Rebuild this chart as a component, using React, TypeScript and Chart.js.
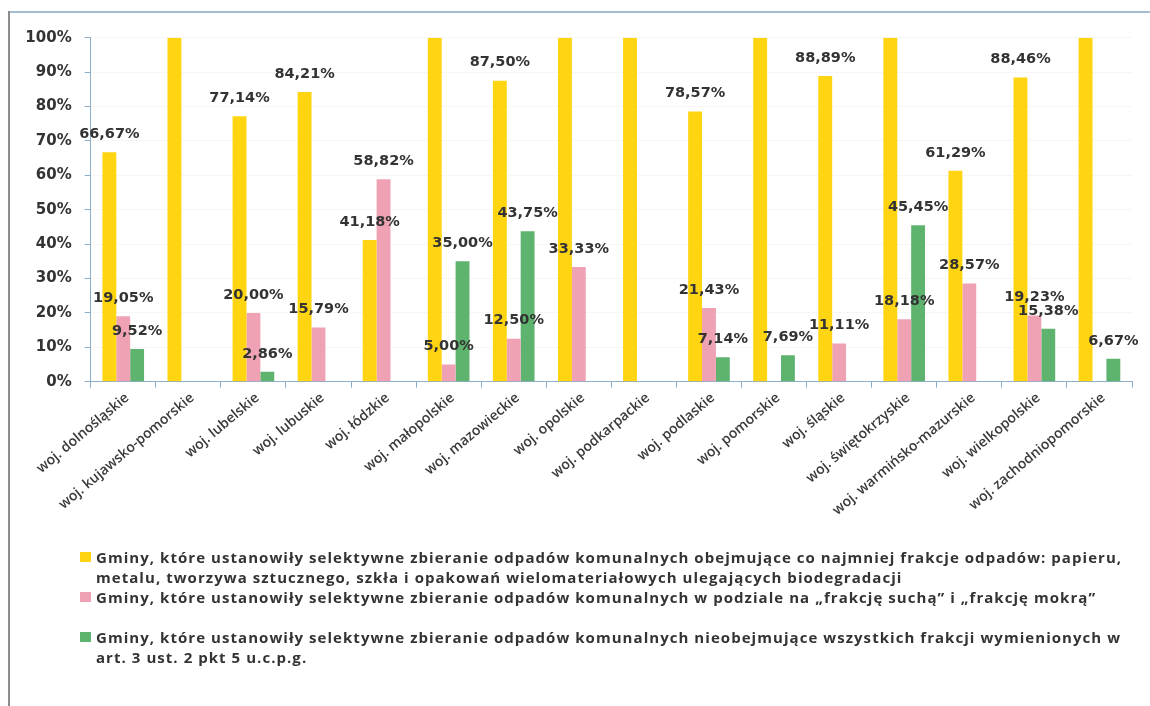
import React, { useEffect, useRef } from 'react';
import { Chart, registerables } from 'chart.js';

Chart.register(...registerables);

const categories = [
  'woj. dolnośląskie',
  'woj. kujawsko-pomorskie',
  'woj. lubelskie',
  'woj. lubuskie',
  'woj. łódzkie',
  'woj. małopolskie',
  'woj. mazowieckie',
  'woj. opolskie',
  'woj. podkarpackie',
  'woj. podlaskie',
  'woj. pomorskie',
  'woj. śląskie',
  'woj. świętokrzyskie',
  'woj. warmińsko-mazurskie',
  'woj. wielkopolskie',
  'woj. zachodniopomorskie',
];

const allFractions = [66.67, 100, 77.14, 84.21, 41.18, 100, 87.5, 100, 100, 78.57, 100, 88.89, 100, 61.29, 88.46, 100];
const dryWet = [19.05, 0, 20.0, 15.79, 58.82, 5.0, 12.5, 33.33, 0, 21.43, 0, 11.11, 18.18, 28.57, 19.23, 0];
const partialFractions = [9.52, 0, 2.86, 0, 0, 35.0, 43.75, 0, 0, 7.14, 7.69, 0, 45.45, 0, 15.38, 6.67];

const yMin = 0;
const yMax = 100;
const yStep = 10;

const legendLines = [
  [
    'Gminy, które ustanowiły selektywne zbieranie odpadów komunalnych obejmujące co najmniej frakcje odpadów: papieru,',
    'metalu, tworzywa sztucznego, szkła i opakowań wielomateriałowych ulegających biodegradacji',
  ],
  ['Gminy, które ustanowiły selektywne zbieranie odpadów komunalnych w podziale na „frakcję suchą” i „frakcję mokrą”', ''],
  [
    'Gminy, które ustanowiły selektywne zbieranie odpadów komunalnych nieobejmujące wszystkich frakcji wymienionych w',
    'art. 3 ust. 2 pkt 5 u.c.p.g.',
  ],
];

const colors = ['#FFD410', '#EEA2B4', '#5EB46E'];

const AXIS_COLOR = '#8eadc9';
const CANVAS_W = 1150;
const CANVAS_H = 550;
const PLOT_LEFT = 90.7;
const PLOT_TOP = 37.7;
const PLOT_BOTTOM = 381.7;
const PLOT_RIGHT = 1132;

const valueLabels = {
  id: 'valueLabels',
  afterDatasetsDraw(chart: any) {
    const ctx = chart.ctx;
    ctx.save();
    ctx.font = 'bold 14.5px "DejaVu Sans"';
    ctx.fillStyle = '#333333';
    ctx.textAlign = 'center';
    ctx.textBaseline = 'middle';
    chart.data.datasets.forEach((ds: any, di: number) => {
      const meta = chart.getDatasetMeta(di);
      meta.data.forEach((bar: any, i: number) => {
        const v = ds.data[i];
        if (v <= 0 || v >= 100) return;
        const txt = v.toFixed(2).replace('.', ',') + '%';
        ctx.fillText(txt, bar.x, bar.y - 18);
      });
    });
    ctx.restore();
  },
};

function ChartView() {
  const ref = useRef<HTMLCanvasElement | null>(null);
  useEffect(() => {
    if (!ref.current) return;
    const chart = new Chart(ref.current, {
      type: 'bar',
      data: {
        labels: categories,
        datasets: [
          { label: legendLines[0].join(' '), data: allFractions, backgroundColor: colors[0] },
          { label: legendLines[1][0], data: dryWet, backgroundColor: colors[1] },
          { label: legendLines[2].join(' '), data: partialFractions, backgroundColor: colors[2] },
        ],
      },
      options: {
        responsive: false,
        animation: false,
        devicePixelRatio: 1,
        layout: { padding: { left: 0, top: PLOT_TOP, right: CANVAS_W - PLOT_RIGHT, bottom: 0 } },
        datasets: { bar: { categoryPercentage: 0.64, barPercentage: 1.0 } },
        plugins: {
          legend: { display: false },
          tooltip: { enabled: false },
        },
        scales: {
          x: {
            grid: { display: true, drawOnChartArea: false, color: AXIS_COLOR, tickLength: 6, offset: true },
            border: { color: AXIS_COLOR, width: 1 },
            ticks: {
              minRotation: 40,
              maxRotation: 40,
              autoSkip: false,
              padding: 2,
              labelOffset: 4,
              color: '#3a3a3a',
              font: { family: '"Open Sans"', size: 14, weight: '600' },
            },
            afterFit: (scale: any) => {
              scale.height = CANVAS_H - PLOT_BOTTOM;
            },
          },
          y: {
            min: yMin,
            max: yMax,
            grid: { display: true, drawOnChartArea: true, color: '#f6f6f6', tickColor: AXIS_COLOR, tickLength: 6 },
            border: { color: AXIS_COLOR, width: 1 },
            ticks: {
              stepSize: yStep,
              padding: 13,
              color: '#333333',
              font: { family: '"DejaVu Sans"', size: 15, weight: 'bold' },
              callback: (v: any) => v + '%',
            },
            afterFit: (scale: any) => {
              scale.width = PLOT_LEFT;
            },
          },
        },
      },
      plugins: [valueLabels],
    });
    return () => chart.destroy();
  }, []);
  return <canvas ref={ref} width={CANVAS_W} height={CANVAS_H} style={{ position: 'absolute', left: 0, top: 0 }} />;
}

export default function App() {
  return (
    <div style={{ position: 'absolute', left: 0, top: 0, width: 1150, height: 706, background: '#ffffff', overflow: 'hidden' }}>
      <ChartView />
      <div style={{ position: 'absolute', left: 8, top: 11, width: 1142, height: 2, background: '#a5bdd1' }} />
      <div style={{ position: 'absolute', left: 8, top: 11, width: 2, height: 695, background: '#8c8c8c' }} />
      <div
        style={{
          position: 'absolute',
          left: 80,
          top: 547,
          fontFamily: '"Open Sans", sans-serif',
          fontWeight: 700,
          fontSize: 15,
          letterSpacing: '1.05px',
          lineHeight: '20px',
          color: '#333333',
          whiteSpace: 'nowrap',
        }}
      >
        {legendLines.map((lines, i) => (
          <div key={i} style={{ position: 'relative', paddingLeft: 16, height: 40 }}>
            <span
              style={{
                position: 'absolute',
                left: 0,
                top: 5,
                width: 11,
                height: 10,
                background: colors[i],
              }}
            />
            <div>{lines[0]}</div>
            <div>{lines[1] || '\u00a0'}</div>
          </div>
        ))}
      </div>
    </div>
  );
}
